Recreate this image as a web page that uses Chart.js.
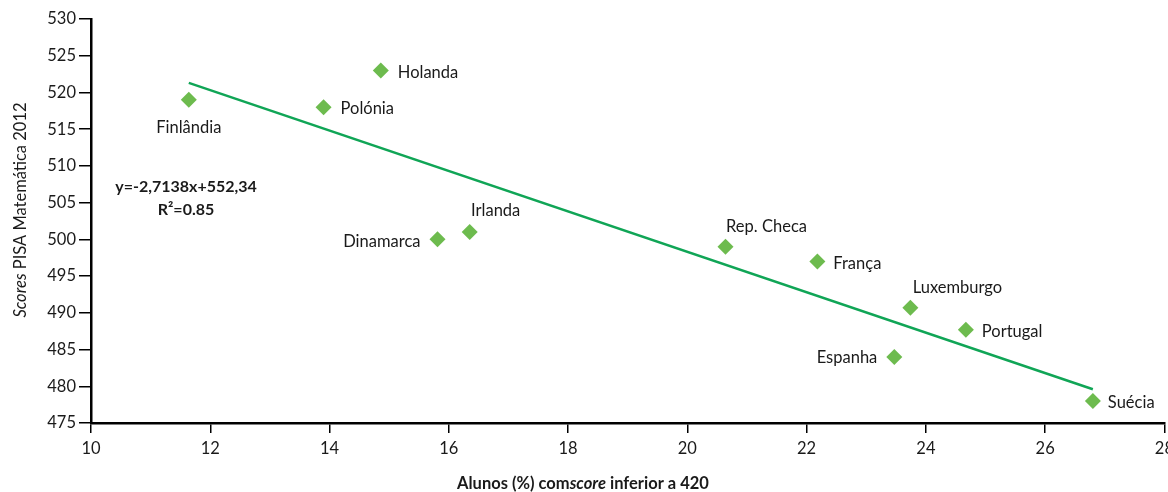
<!DOCTYPE html>
<html>
<head>
<meta charset="utf-8">
<script src="https://cdn.jsdelivr.net/npm/chart.js@4"></script>
<style>
  html, body { margin: 0; padding: 0; background: #fff; overflow: hidden; }
  #grafico { display: block; }
</style>
</head>
<body>
<!-- um pouco mais largo que a janela: no original o "28" fica cortado na borda -->
<canvas id="grafico" width="1180" height="492"></canvas>
<script>
// Dados
const paises = ['Finlândia', 'Polónia', 'Holanda', 'Dinamarca', 'Irlanda', 'Rep. Checa', 'França', 'Luxemburgo', 'Portugal', 'Espanha', 'Suécia'];
const alunosAbaixo420 = [11.64, 13.9, 14.86, 15.81, 16.35, 20.64, 22.18, 23.74, 24.67, 23.47, 26.8];
const scoresMat = [519, 518, 523, 500, 501, 499, 497, 490.7, 487.7, 484, 478];
const tendenciaX = [11.64, 26.8];
const tendenciaY = [521.3, 479.6];
const ticksX = [10, 12, 14, 16, 18, 20, 22, 24, 26, 28];
const ticksY = [475, 480, 485, 490, 495, 500, 505, 510, 515, 520, 525, 530];

// onde fica cada rótulo em relação ao ponto
const posRotulo = {
    'Finlândia': { dx: 0, dy: 28, align: 'center' },
    'Polónia': { dx: 17, dy: 2, align: 'left' },
    'Holanda': { dx: 17, dy: 2, align: 'left' },
    'Dinamarca': { dx: -17, dy: 2, align: 'right' },
    'Irlanda': { dx: 26, dy: -21, align: 'center' },
    'Rep. Checa': { dx: 41, dy: -20, align: 'center' },
    'França': { dx: 16, dy: 2, align: 'left' },
    'Luxemburgo': { dx: 47, dy: -20, align: 'center' },
    'Portugal': { dx: 16, dy: 2, align: 'left' },
    'Espanha': { dx: -17, dy: 1, align: 'right' },
    'Suécia': { dx: 15, dy: 2, align: 'left' }
};

const fonte = 'Lato, "Open Sans", sans-serif';

const pontos = alunosAbaixo420.map((x, i) => ({ x: x, y: scoresMat[i] }));
const linha = tendenciaX.map((x, i) => ({ x: x, y: tendenciaY[i] }));

const textos = {
    id: 'textos',
    afterDatasetsDraw(chart) {
        const ctx = chart.ctx;
        const meta = chart.getDatasetMeta(1);
        ctx.save();
        ctx.fillStyle = '#1a1a1a';
        ctx.font = '16.5px ' + fonte;
        ctx.textBaseline = 'middle';
        meta.data.forEach((p, i) => {
            const r = posRotulo[paises[i]];
            ctx.textAlign = r.align;
            ctx.fillText(paises[i], p.x + r.dx, p.y + r.dy);
        });

        // equação da reta
        ctx.font = 'bold 16px ' + fonte;
        ctx.textAlign = 'center';
        ctx.fillText('y=-2,7138x+552,34', 186, 187);
        ctx.fillText('R\u00B2=0.85', 186, 210);

        // título do eixo x (misto negrito / itálico)
        const partes = [
            ['bold 16.5px ', 'Alunos (%) com'],
            ['italic bold 16.5px ', 'score'],
            ['bold 16.5px ', ' inferior a 420']
        ];
        let larg = 0;
        partes.forEach(pt => { ctx.font = pt[0] + fonte; larg += ctx.measureText(pt[1]).width; });
        let x0 = 583 - larg / 2;
        ctx.textAlign = 'left';
        partes.forEach(pt => {
            ctx.font = pt[0] + fonte;
            ctx.fillText(pt[1], x0, 484);
            x0 += ctx.measureText(pt[1]).width;
        });

        // título do eixo y
        ctx.translate(21, 210);
        ctx.rotate(-Math.PI / 2);
        const partesY = [['italic 16.5px ', 'Scores'], ['16.5px ', ' PISA Matemática 2012']];
        larg = 0;
        partesY.forEach(pt => { ctx.font = pt[0] + fonte; larg += ctx.measureText(pt[1]).width; });
        x0 = -larg / 2;
        partesY.forEach(pt => {
            ctx.font = pt[0] + fonte;
            ctx.fillText(pt[1], x0, 0);
            x0 += ctx.measureText(pt[1]).width;
        });
        ctx.restore();
    }
};

new Chart(document.getElementById('grafico').getContext('2d'), {
    type: 'scatter',
    data: {
        datasets: [{
            type: 'line',
            data: linha,
            borderColor: '#10a556',
            borderWidth: 2.5,
            pointRadius: 0,
            fill: false
        }, {
            data: pontos,
            pointStyle: 'rectRot',
            pointRadius: 8,
            pointBackgroundColor: '#6dbb4e',
            pointBorderColor: '#6dbb4e',
            pointBorderWidth: 0
        }]
    },
    options: {
        responsive: false,
        animation: false,
        layout: { padding: { top: 19, right: 0, left: 0, bottom: 0 } },
        plugins: { legend: { display: false }, tooltip: { enabled: false } },
        scales: {
            x: {
                type: 'linear',
                min: 10,
                max: 28,
                afterBuildTicks: s => { s.ticks = ticksX.map(v => ({ value: v })); },
                afterFit: s => { s.height = 69; },
                border: { color: '#000', width: 2.5 },
                grid: { drawOnChartArea: false, color: '#000', tickLength: 10, lineWidth: 1.5 },
                ticks: { color: '#1a1a1a', font: { family: fonte, size: 16.5 }, padding: 6 }
            },
            y: {
                min: 475,
                max: 530,
                afterBuildTicks: s => { s.ticks = ticksY.map(v => ({ value: v })); },
                afterFit: s => { s.width = 91; },
                border: { color: '#000', width: 2.5 },
                grid: { drawOnChartArea: false, color: '#000', tickLength: 12, lineWidth: 1.5 },
                ticks: { color: '#1a1a1a', font: { family: fonte, size: 16.5 }, padding: 3 }
            }
        }
    },
    plugins: [textos]
});
</script>
</body>
</html>
